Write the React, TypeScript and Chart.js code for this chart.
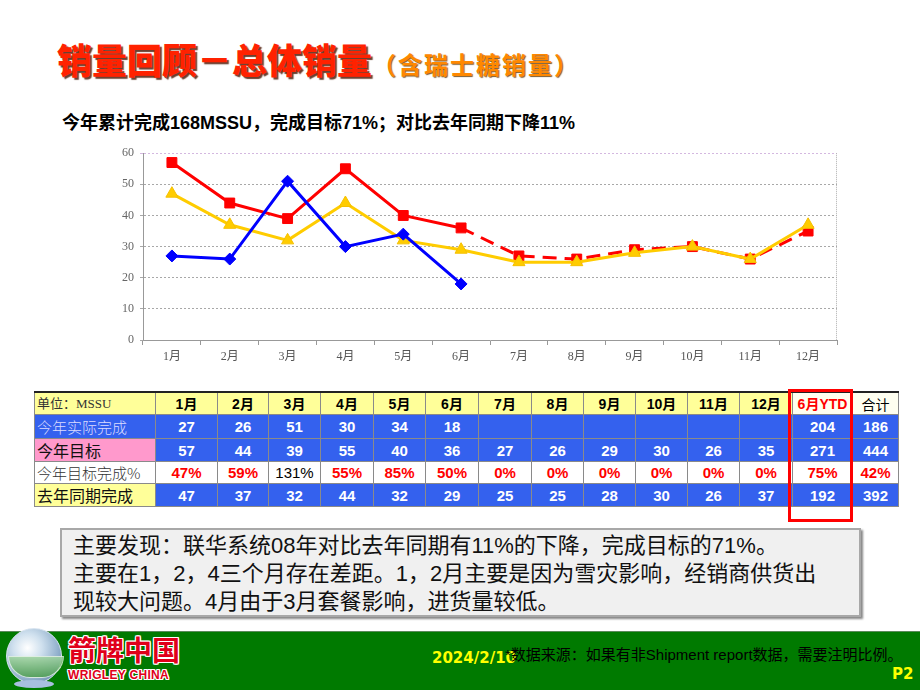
import React, { useEffect, useRef } from "react";
import { Chart, registerables } from "chart.js";

Chart.register(...registerables);

// ---------------- data ----------------
const months = ["1月", "2月", "3月", "4月", "5月", "6月", "7月", "8月", "9月", "10月", "11月", "12月"];
const actual: (number | null)[] = [27, 26, 51, 30, 34, 18, null, null, null, null, null, null];
const target = [57, 44, 39, 55, 40, 36, 27, 26, 29, 30, 26, 35];
const lastYear = [47, 37, 32, 44, 32, 29, 25, 25, 28, 30, 26, 37];
const targetPct = ["47%", "59%", "131%", "55%", "85%", "50%", "0%", "0%", "0%", "0%", "0%", "0%"];
const ytdCol = ["204", "271", "75%", "192"];
const totalCol = ["186", "444", "42%", "392"];
const rowLabels = ["今年实际完成", "今年目标", "今年目标完成%", "去年同期完成"];
const yMin = 0;
const yMax = 60;
const yStep = 10;

const CJK = '"Noto Sans CJK SC"';
const SANS = '"Liberation Sans", "Noto Sans CJK SC", sans-serif';
const SERIF = '"Liberation Serif", "Noto Sans CJK SC", serif';

const BLUE_CELL = "#3461EE";
const YELLOW_CELL = "#FFFF99";
const PINK_CELL = "#FF99CC";

const framePlugin = {
  id: "frame",
  beforeDatasetsDraw(chart: any) {
    const { ctx, chartArea: a } = chart;
    ctx.save();
    ctx.setLineDash([1, 1]);
    ctx.lineWidth = 1;
    ctx.strokeStyle = "#B0B0B0";
    ctx.beginPath();
    ctx.moveTo(Math.round(a.right) - 0.5, a.top);
    ctx.lineTo(Math.round(a.right) - 0.5, a.bottom);
    ctx.stroke();
    ctx.restore();
  },
};

function LineChart() {
  const ref = useRef<HTMLCanvasElement>(null);
  useEffect(() => {
    if (!ref.current) return;
    const chart = new Chart(ref.current, {
      type: "line",
      data: {
        labels: months,
        datasets: [
          {
            label: "今年实际完成",
            data: actual,
            borderColor: "#0000FF",
            backgroundColor: "#0000FF",
            borderWidth: 3,
            pointStyle: "rectRot",
            pointRadius: 6,
            pointBorderWidth: 1,
            pointBackgroundColor: "#0000FF",
            pointBorderColor: "#0000FF",
            tension: 0,
            spanGaps: false,
          },
          {
            label: "去年同期完成",
            data: lastYear,
            borderColor: "#FFCC00",
            backgroundColor: "#FFCC00",
            borderWidth: 3,
            pointStyle: "triangle",
            pointRadius: 7,
            pointBorderWidth: 1,
            pointBackgroundColor: "#FFCC00",
            pointBorderColor: "#F5C000",
            tension: 0,
          },
          {
            label: "今年目标",
            data: target,
            borderColor: "#FF0000",
            backgroundColor: "#FF0000",
            borderWidth: 3,
            pointStyle: "rect",
            pointRadius: 7,
            pointBorderWidth: 1,
            pointBackgroundColor: "#FF0000",
            pointBorderColor: "#FF0000",
            tension: 0,
            segment: {
              borderDash: (c: any) => (c.p0DataIndex >= 5 ? [14, 8] : undefined),
            },
          },
        ],
      },
      options: {
        animation: false,
        responsive: false,
        maintainAspectRatio: false,
        events: [],
        layout: { padding: { top: 12, right: 23, left: 0, bottom: 0 } },
        plugins: { legend: { display: false }, tooltip: { enabled: false } },
        scales: {
          x: {
            type: "category",
            offset: true,
            grid: {
              offset: true,
              drawOnChartArea: false,
              drawTicks: true,
              tickLength: 5,
              color: "#999999",
            },
            border: { color: "#999999", width: 1 },
            ticks: {
              color: "#555555",
              padding: 5,
              maxRotation: 0,
              autoSkip: false,
              font: { size: 12, family: SERIF },
            },
            afterFit: (s: any) => {
              s.height = 40;
            },
          },
          y: {
            min: yMin,
            max: yMax,
            grid: {
              color: (c: any) => (c.tick && c.tick.value === yMax ? "#D4B8E0" : "#A8A8A8"),
              tickLength: 3,
              drawTicks: true,
            },
            border: { color: "#999999", width: 1, dash: [2, 2] },
            ticks: {
              stepSize: yStep,
              color: "#666666",
              padding: 6,
              font: { size: 12, family: SERIF },
            },
            afterFit: (s: any) => {
              s.width = 43;
            },
          },
        },
      },
      plugins: [framePlugin],
    } as any);
    return () => chart.destroy();
  }, []);
  return (
    <canvas
      ref={ref}
      width={760}
      height={240}
      style={{ position: "absolute", left: 100, top: 140, width: 760, height: 240 }}
    />
  );
}

const colW = [121, 62, 51, 52, 53, 52, 53, 53, 52, 52, 52, 52, 53, 60, 46];
const rowH = [22, 24, 23, 22, 23];
const TABLE_LEFT = 34;
const TABLE_TOP = 392;

type CellSpec = { text: string; bg: string; color: string; font: string; size: number; weight: number; align?: string };

function buildCells(): CellSpec[][] {
  const rows: CellSpec[][] = [];
  const header: CellSpec[] = [
    { text: "单位：MSSU", bg: YELLOW_CELL, color: "#333", font: SERIF, size: 13, weight: 400, align: "left" },
  ];
  months.forEach((m) => header.push({ text: m, bg: YELLOW_CELL, color: "#000", font: SANS, size: 14, weight: 700 }));
  header.push({ text: "6月YTD", bg: "#FFFFF0", color: "#FF0000", font: SANS, size: 14, weight: 700 });
  header.push({ text: "合计", bg: "#FFFFF0", color: "#000", font: CJK, size: 14, weight: 400 });
  rows.push(header);

  const valCell = (t: string): CellSpec => ({ text: t, bg: BLUE_CELL, color: "#FFFFFF", font: SANS, size: 15, weight: 700 });

  const r1: CellSpec[] = [
    { text: rowLabels[0], bg: BLUE_CELL, color: "#DCDCFF", font: CJK, size: 15, weight: 300, align: "left" },
  ];
  actual.forEach((v) => r1.push(valCell(v == null ? "" : String(v))));
  r1.push(valCell(ytdCol[0]));
  r1.push(valCell(totalCol[0]));
  rows.push(r1);

  const r2: CellSpec[] = [
    { text: rowLabels[1], bg: PINK_CELL, color: "#111", font: CJK, size: 16, weight: 400, align: "left" },
  ];
  target.forEach((v) => r2.push(valCell(String(v))));
  r2.push(valCell(ytdCol[1]));
  r2.push(valCell(totalCol[1]));
  rows.push(r2);

  const r3: CellSpec[] = [
    { text: rowLabels[2], bg: "#FFFFFF", color: "#333", font: CJK, size: 15, weight: 300, align: "left" },
  ];
  targetPct.forEach((p) => {
    const over = parseInt(p, 10) >= 100;
    r3.push({ text: p, bg: "#FFFFFF", color: over ? "#000" : "#FF0000", font: SANS, size: 15, weight: over ? 400 : 700 });
  });
  r3.push({ text: ytdCol[2], bg: "#FFFFFF", color: "#FF0000", font: SANS, size: 15, weight: 700 });
  r3.push({ text: totalCol[2], bg: "#FFFFFF", color: "#FF0000", font: SANS, size: 15, weight: 700 });
  rows.push(r3);

  const r4: CellSpec[] = [
    { text: rowLabels[3], bg: YELLOW_CELL, color: "#111", font: CJK, size: 16, weight: 400, align: "left" },
  ];
  lastYear.forEach((v) => r4.push(valCell(String(v))));
  r4.push(valCell(ytdCol[3]));
  r4.push(valCell(totalCol[3]));
  rows.push(r4);
  return rows;
}

function DataTable() {
  const rows = buildCells();
  const els: React.ReactNode[] = [];
  let y = TABLE_TOP;
  rows.forEach((row, ri) => {
    let x = TABLE_LEFT;
    row.forEach((c, ci) => {
      els.push(
        <div
          key={`${ri}-${ci}`}
          style={{
            position: "absolute",
            left: x,
            top: y,
            width: colW[ci] + 1,
            height: rowH[ri] + 1,
            boxSizing: "border-box",
            border: "1px solid #8A8A8A",
            background: c.bg,
            color: c.color,
            fontFamily: c.font,
            fontSize: c.size,
            fontWeight: c.weight,
            display: "flex",
            alignItems: "center",
            justifyContent: c.align === "left" ? "flex-start" : "center",
            paddingLeft: c.align === "left" ? 2 : 0,
            whiteSpace: "nowrap",
            overflow: "hidden",
            lineHeight: 1,
          }}
        >
          {c.text}
        </div>
      );
      x += colW[ci];
    });
    y += rowH[ri];
  });
  const totalW = colW.reduce((a, b) => a + b, 0);
  return (
    <>
      {els}
      <div style={{ position: "absolute", left: TABLE_LEFT, top: TABLE_TOP - 1, width: totalW + 1, height: 2, background: "#222" }} />
      <div
        style={{
          position: "absolute",
          left: 788,
          top: 389,
          width: 65,
          height: 133,
          boxSizing: "border-box",
          border: "3px solid #FF0000",
        }}
      />
    </>
  );
}

export default function App() {
  useEffect(() => {
    document.body.style.margin = "0";
  }, []);
  const outline = "1px 1px 0 #fff, -1px -1px 0 #fff, 1px -1px 0 #fff, -1px 1px 0 #fff, 0 1px 0 #fff, 0 -1px 0 #fff, 1px 0 0 #fff, -1px 0 0 #fff";
  return (
    <div
      style={{
        position: "absolute",
        left: 0,
        top: 0,
        width: 920,
        height: 690,
        background: "#FFFFFF",
        overflow: "hidden",
        fontFamily: SANS,
      }}
    >
      {/* Title */}
      <div
        style={{
          position: "absolute",
          left: 57,
          top: 41,
          whiteSpace: "nowrap",
          lineHeight: "36px",
          fontFamily: CJK,
        }}
      >
        <span style={{ fontSize: 35, fontWeight: 900, color: "#FF2200", textShadow: "2px 2px 1px #6B4030" }}>
          销量回顾－总体销量
        </span>
        <span
          style={{
            display: "inline-block",
            marginLeft: 0,
            fontSize: 24,
            fontWeight: 700,
            letterSpacing: 2,
            color: "#FF8800",
            textShadow: "1px 1px 1px #7A5A30",
          }}
        >
          （含瑞士糖销量）
        </span>
      </div>

      {/* Subheading */}
      <div
        style={{
          position: "absolute",
          left: 62,
          top: 112,
          fontSize: 18,
          fontWeight: 700,
          color: "#000",
          whiteSpace: "nowrap",
          lineHeight: "22px",
        }}
      >
        今年累计完成168MSSU，完成目标71%；对比去年同期下降11%
      </div>

      <LineChart />
      <DataTable />

      {/* Findings box */}
      <div
        style={{
          position: "absolute",
          left: 60,
          top: 528,
          width: 801,
          height: 89,
          boxSizing: "border-box",
          background: "#F0F0F0",
          border: "2px solid #A8A8A8",
          boxShadow: "2px 2px 2px #888",
          padding: "2px 0 0 11px",
          fontSize: 22,
          lineHeight: "28px",
          color: "#111",
          whiteSpace: "nowrap",
        }}
      >
        <div>主要发现：联华系统08年对比去年同期有11%的下降，完成目标的71%。</div>
        <div>主要在1，2，4三个月存在差距。1，2月主要是因为雪灾影响，经销商供货出</div>
        <div>现较大问题。4月由于3月套餐影响，进货量较低。</div>
      </div>

      {/* Footer */}
      <div
        style={{
          position: "absolute",
          left: 0,
          top: 631,
          width: 920,
          height: 59,
          background: "#007A00",
          borderTop: "1px solid #5A8A5A",
          boxSizing: "border-box",
        }}
      />
      {/* Logo globe */}
      <div
        style={{
          position: "absolute",
          left: 6,
          top: 628,
          width: 54,
          height: 54,
          borderRadius: "50%",
          background: "radial-gradient(circle at 38% 35%, #FFFFFF 0%, #CFE0EE 30%, #8FAECB 65%, #4F6F98 100%)",
          border: "1px solid #D8E4F0",
        }}
      />
      <div
        style={{
          position: "absolute",
          left: 8,
          top: 656,
          width: 54,
          height: 20,
          borderRadius: "0 0 30px 30px",
          background: "linear-gradient(#9ED29E, #4E9E4E)",
          opacity: 0.85,
          border: "1px solid #E0F0E0",
        }}
      />
      <div
        style={{
          position: "absolute",
          left: 14,
          top: 680,
          width: 40,
          height: 8,
          borderRadius: "50%",
          background: "#A8C0E0",
        }}
      />
      <div
        style={{
          position: "absolute",
          left: 68,
          top: 634,
          fontFamily: CJK,
          fontSize: 28,
          fontWeight: 700,
          color: "#E0001A",
          lineHeight: "30px",
          whiteSpace: "nowrap",
          textShadow: outline,
        }}
      >
        箭牌中国
      </div>
      <div
        style={{
          position: "absolute",
          left: 68,
          top: 668,
          fontFamily: SANS,
          fontSize: 12,
          fontWeight: 700,
          color: "#E0001A",
          lineHeight: "14px",
          whiteSpace: "nowrap",
          textShadow: outline,
          letterSpacing: 0.3,
        }}
      >
        WRIGLEY CHINA
      </div>
      <div
        style={{
          position: "absolute",
          left: 432,
          top: 649,
          fontFamily: '"DejaVu Sans", sans-serif',
          fontSize: 15,
          fontWeight: 700,
          color: "#FFFF00",
          lineHeight: "18px",
          whiteSpace: "nowrap",
        }}
      >
        2024/2/10
      </div>
      <div
        style={{
          position: "absolute",
          left: 505,
          top: 646,
          fontSize: 15,
          color: "#000",
          lineHeight: "18px",
          whiteSpace: "nowrap",
        }}
      >
        *数据来源：如果有非Shipment report数据，需要注明比例。
      </div>
      <div
        style={{
          position: "absolute",
          left: 892,
          top: 665,
          fontFamily: '"DejaVu Sans", sans-serif',
          fontSize: 15,
          fontWeight: 700,
          color: "#FFFF00",
          lineHeight: "18px",
          whiteSpace: "nowrap",
        }}
      >
        P2
      </div>
    </div>
  );
}
